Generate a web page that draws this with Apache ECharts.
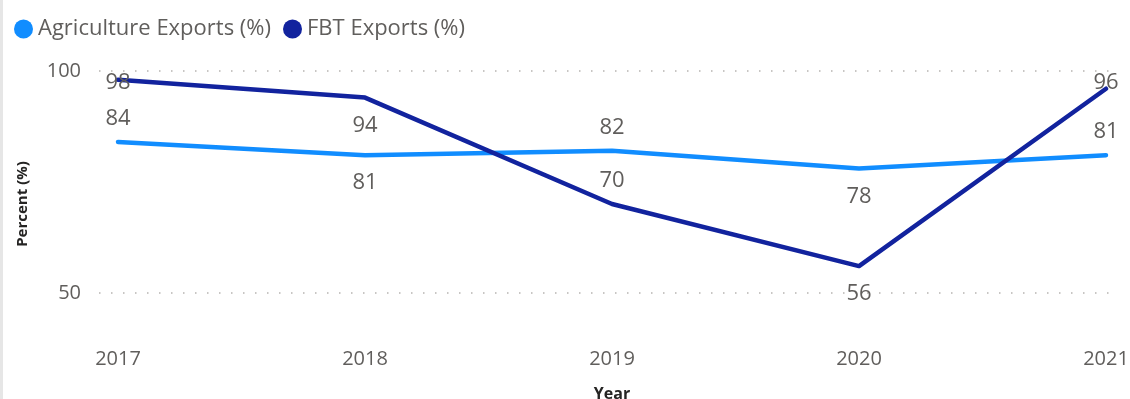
<!DOCTYPE html>
<html>
<head>
<meta charset="utf-8">
<title>Agriculture and FBT Exports (%)</title>
<script src="https://cdn.jsdelivr.net/npm/echarts@6/dist/echarts.min.js"></script>
<style>
  html, body { margin: 0; padding: 0; background: #ffffff; }
  #chart { width: 1127px; height: 399px; border-left: 3px solid #e6e6e6; }
</style>
</head>
<body>
<div id="chart"></div>
<script>
// Year categories and the two export shares (percent)
const years = ['2017', '2018', '2019', '2020', '2021'];
const agricultureExports = [84, 81, 82, 78, 81];
const fbtExports = [98, 94, 70, 56, 96];
const yTicks = [50, 100];

// where each value label sits relative to its point
const agriLabelSide = ['top', 'bottom', 'top', 'bottom', 'top'];
const fbtLabelSide = ['inside', 'bottom', 'top', 'bottom', 'inside'];
const fbtInsideShift = [3, 0, 0, 0, -6];

const FONT = '"Segoe UI", "Open Sans", "Noto Sans", sans-serif';
const GRAY = '#605e5c';

function labelFor(side, shift) {
  const base = { show: true, position: side, fontSize: 22, lineHeight: 22,
                 color: GRAY, fontFamily: FONT };
  if (side === 'top') base.distance = 12;
  else if (side === 'bottom') base.distance = 17;
  else base.offset = [0, shift || 0];
  return base;
}

const agriData = agricultureExports.map((v, i) => ({ value: v, label: labelFor(agriLabelSide[i]) }));
const fbtData = fbtExports.map((v, i) => ({ value: v, label: labelFor(fbtLabelSide[i], fbtInsideShift[i]) }));

const chart = echarts.init(document.getElementById('chart'), null, { renderer: 'canvas' });

chart.setOption({
  animation: false,
  textStyle: { fontFamily: FONT },
  legend: {
    left: 6, top: 13,
    icon: 'circle', itemWidth: 19, itemHeight: 19, itemGap: 12,
    textStyle: { fontSize: 22, color: GRAY, fontFamily: FONT },
    data: ['Agriculture Exports (%)', 'FBT Exports (%)']
  },
  grid: [
    // gridline area (wider than the plotted points)
    { left: 96, right: 13, top: 71, bottom: 106, outerBoundsMode: 'none', containLabel: false },
    // plot area for the lines
    { left: 115, right: 24, top: 71, bottom: 62, outerBoundsMode: 'none', containLabel: false }
  ],
  xAxis: [
    { gridIndex: 0, type: 'value', min: 0, max: 1, show: false },
    {
      gridIndex: 1, type: 'category', data: years, boundaryGap: false,
      axisLine: { show: false }, axisTick: { show: false },
      axisLabel: { fontSize: 20, color: GRAY, margin: 12, fontFamily: FONT },
      name: 'Year', nameLocation: 'middle', nameGap: 49,
      nameTextStyle: { fontSize: 16, fontWeight: 'bold', color: '#252423', fontFamily: FONT }
    }
  ],
  yAxis: [
    {
      gridIndex: 0, type: 'value', min: yTicks[0], max: yTicks[1], interval: yTicks[1] - yTicks[0],
      axisLine: { show: false }, axisTick: { show: false },
      axisLabel: { fontSize: 20, color: GRAY, margin: 18, fontFamily: FONT },
      splitLine: { show: true, lineStyle: { color: '#c8c6c4', width: 2, type: [1.5, 10.5] } }
    },
    {
      gridIndex: 1, type: 'value', min: 40, max: 100,
      axisLine: { show: false }, axisTick: { show: false },
      axisLabel: { show: false }, splitLine: { show: false },
      name: 'Percent (%)', nameLocation: 'middle', nameGap: 88,
      nameTextStyle: { fontSize: 15, fontWeight: 'bold', color: '#252423', fontFamily: FONT }
    }
  ],
  series: [
    {
      name: 'Agriculture Exports (%)', type: 'line', xAxisIndex: 1, yAxisIndex: 1,
      data: agriData, symbol: 'circle', symbolSize: 0, showSymbol: true,
      lineStyle: { color: '#118dff', width: 4.5, cap: 'round', join: 'round' },
      itemStyle: { color: '#118dff' },
      emphasis: { disabled: true }, z: 2
    },
    {
      name: 'FBT Exports (%)', type: 'line', xAxisIndex: 1, yAxisIndex: 1,
      data: fbtData, symbol: 'circle', symbolSize: 0, showSymbol: true,
      lineStyle: { color: '#12239e', width: 4.5, cap: 'round', join: 'round' },
      itemStyle: { color: '#12239e' },
      emphasis: { disabled: true }, z: 3
    }
  ]
});
</script>
</body>
</html>
